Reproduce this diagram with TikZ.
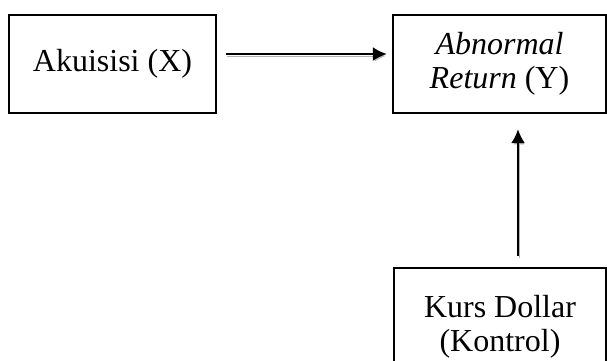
\documentclass[tikz,border=0pt]{standalone}
\usepackage{fontspec}
\setmainfont{Liberation Serif}
\usetikzlibrary{arrows.meta}
\def\boxh{98pt}
\tikzset{
  varbox/.style={draw,rectangle,line width=2.4pt,minimum height=\boxh,align=center,inner sep=0pt,font=\fontsize{32}{34}\selectfont},
  link/.style={-{Latex[length=14pt,width=14pt]},line width=2pt,
    preaction={draw=black!30,transform canvas={xshift=1pt,yshift=-2pt}}}
}
\begin{document}
\begin{tikzpicture}[x=1pt,y=-1pt]
\useasboundingbox (0,0) rectangle (607,360);
\node[varbox,minimum width=207pt] (akuisisi) at (112.5,64) {Akuisisi (X)};
\node[varbox,minimum width=213pt] (abnormal) at (499.5,64) {\textit{Abnormal}\\\textit{Return} (Y)};
\node[varbox,minimum width=212pt,minimum height=118pt] (kurs) at (500,327) {Kurs Dollar\\(Kontrol)};

\draw[link,shorten <=9pt,shorten >=5pt] ([yshift=10pt]akuisisi.east) -- ([yshift=10pt]abnormal.west);
\draw[link,shorten <=11pt,shorten >=15pt] ([xshift=18pt]kurs.north) -- ([xshift=18.5pt]abnormal.south);
\end{tikzpicture}
\end{document}
